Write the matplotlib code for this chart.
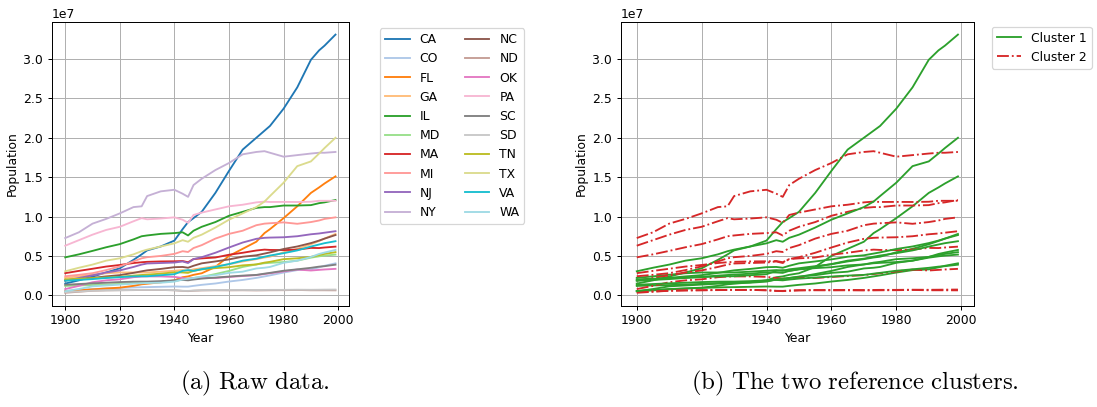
import matplotlib
matplotlib.use("Agg")
import matplotlib.pyplot as plt

plt.rcParams["mathtext.fontset"] = "cm"

# --- Data (population in millions) ---
years = [1900, 1905, 1910, 1915, 1920, 1925, 1928, 1930, 1935, 1940, 1943, 1945, 1947,
         1950, 1955, 1960, 1965, 1970, 1973, 1975, 1980, 1985, 1990, 1993, 1995, 1999]

ca = [1.49, 1.9, 2.38, 2.9, 3.43, 4.5, 5.2, 5.7, 6.2, 6.95, 8.4, 9.3, 9.8,
      10.6, 13.0, 15.8, 18.5, 20.0, 20.9, 21.5, 23.7, 26.4, 29.9, 31.1, 31.7, 33.1]
co = [0.54, 0.67, 0.8, 0.87, 0.94, 1.0, 1.03, 1.04, 1.08, 1.12, 1.1, 1.1, 1.2,
      1.33, 1.5, 1.75, 1.95, 2.21, 2.4, 2.53, 2.89, 3.2, 3.29, 3.55, 3.75, 4.06]
fl = [0.53, 0.63, 0.75, 0.87, 0.97, 1.2, 1.4, 1.47, 1.65, 1.9, 2.3, 2.4, 2.6,
      2.8, 3.6, 5.0, 5.9, 6.8, 7.9, 8.4, 9.8, 11.3, 13.0, 13.7, 14.2, 15.1]
ga = [2.22, 2.4, 2.61, 2.8, 2.9, 2.9, 2.9, 2.9, 3.0, 3.12, 3.2, 3.1, 3.3,
      3.44, 3.7, 3.94, 4.3, 4.59, 4.8, 4.9, 5.46, 5.9, 6.48, 6.9, 7.2, 7.79]
il = [4.82, 5.2, 5.64, 6.1, 6.5, 7.1, 7.5, 7.6, 7.8, 7.9, 8.0, 7.6, 8.2,
      8.7, 9.3, 10.1, 10.6, 11.1, 11.2, 11.2, 11.4, 11.4, 11.45, 11.7, 11.8, 12.1]
md = [1.19, 1.25, 1.3, 1.37, 1.45, 1.55, 1.6, 1.63, 1.7, 1.82, 2.0, 2.1, 2.2,
      2.34, 2.7, 3.1, 3.6, 3.92, 4.07, 4.12, 4.22, 4.4, 4.78, 4.95, 5.04, 5.17]
ma = [2.81, 3.1, 3.37, 3.65, 3.85, 4.1, 4.2, 4.25, 4.3, 4.32, 4.35, 4.2, 4.6,
      4.69, 4.8, 5.15, 5.4, 5.69, 5.8, 5.76, 5.74, 5.8, 6.02, 6.0, 6.07, 6.18]
mi = [2.42, 2.6, 2.81, 3.2, 3.67, 4.3, 4.7, 4.84, 5.0, 5.26, 5.6, 5.5, 6.0,
      6.37, 7.2, 7.8, 8.2, 8.9, 9.1, 9.15, 9.26, 9.08, 9.3, 9.5, 9.7, 9.9]
nj = [1.88, 2.2, 2.54, 2.9, 3.16, 3.6, 3.9, 4.04, 4.1, 4.16, 4.3, 4.1, 4.6,
      4.84, 5.4, 6.07, 6.7, 7.17, 7.3, 7.33, 7.37, 7.5, 7.75, 7.85, 7.95, 8.14]
ny = [7.27, 8.0, 9.1, 9.7, 10.4, 11.2, 11.3, 12.6, 13.2, 13.4, 12.9, 12.5, 14.0,
      14.8, 15.9, 16.8, 17.9, 18.2, 18.3, 18.1, 17.6, 17.8, 18.0, 18.1, 18.1, 18.2]
nc = [1.89, 2.05, 2.21, 2.4, 2.56, 2.85, 3.05, 3.17, 3.35, 3.57, 3.6, 3.5, 3.75,
      4.06, 4.3, 4.56, 4.9, 5.08, 5.3, 5.45, 5.88, 6.2, 6.63, 6.95, 7.2, 7.65]
nd = [0.32, 0.45, 0.58, 0.63, 0.65, 0.66, 0.68, 0.68, 0.68, 0.64, 0.56, 0.53, 0.58,
      0.62, 0.64, 0.63, 0.64, 0.62, 0.63, 0.64, 0.65, 0.68, 0.64, 0.64, 0.64, 0.63]
ok = [0.79, 1.2, 1.66, 1.9, 2.03, 2.3, 2.38, 2.40, 2.4, 2.34, 2.2, 2.1, 2.2,
      2.23, 2.2, 2.33, 2.45, 2.56, 2.7, 2.8, 3.03, 3.27, 3.15, 3.23, 3.28, 3.36]
pa = [6.3, 7.0, 7.7, 8.3, 8.7, 9.4, 9.8, 9.65, 9.75, 9.9, 9.6, 9.2, 10.2,
      10.5, 10.9, 11.3, 11.5, 11.8, 11.9, 11.85, 11.86, 11.85, 11.88, 12.0, 12.0, 12.0]
sc = [1.34, 1.43, 1.52, 1.6, 1.68, 1.73, 1.74, 1.74, 1.8, 1.9, 1.95, 1.9, 2.0,
      2.12, 2.25, 2.38, 2.5, 2.59, 2.75, 2.85, 3.12, 3.3, 3.49, 3.64, 3.7, 3.89]
sd = [0.40, 0.5, 0.58, 0.62, 0.64, 0.67, 0.69, 0.69, 0.69, 0.64, 0.57, 0.56, 0.6,
      0.65, 0.67, 0.68, 0.68, 0.67, 0.68, 0.69, 0.69, 0.71, 0.70, 0.71, 0.72, 0.73]
tn = [2.02, 2.1, 2.18, 2.26, 2.34, 2.5, 2.58, 2.62, 2.75, 2.92, 2.9, 2.85, 3.1,
      3.29, 3.45, 3.57, 3.8, 3.92, 4.15, 4.25, 4.59, 4.7, 4.88, 5.1, 5.26, 5.48]
tx = [3.05, 3.5, 3.9, 4.4, 4.7, 5.2, 5.6, 5.8, 6.2, 6.6, 7.0, 6.8, 7.3,
      7.7, 8.6, 9.6, 10.4, 11.2, 11.9, 12.6, 14.3, 16.4, 17.0, 18.0, 18.7, 20.0]
va = [1.85, 1.95, 2.06, 2.2, 2.31, 2.4, 2.42, 2.42, 2.55, 2.68, 3.1, 3.2, 3.1,
      3.32, 3.6, 3.97, 4.4, 4.65, 4.9, 5.05, 5.35, 5.7, 6.19, 6.45, 6.62, 6.87]
wa = [0.52, 0.8, 1.14, 1.25, 1.36, 1.48, 1.53, 1.56, 1.6, 1.74, 2.0, 2.1, 2.2,
      2.38, 2.55, 2.85, 3.0, 3.41, 3.5, 3.6, 4.13, 4.4, 4.87, 5.25, 5.43, 5.76]

states = ["CA", "CO", "FL", "GA", "IL", "MD", "MA", "MI", "NJ", "NY",
          "NC", "ND", "OK", "PA", "SC", "SD", "TN", "TX", "VA", "WA"]
series = [ca, co, fl, ga, il, md, ma, mi, nj, ny,
          nc, nd, ok, pa, sc, sd, tn, tx, va, wa]
cluster1 = ["CA", "CO", "FL", "GA", "MD", "NC", "SC", "TN", "TX", "VA", "WA"]

# --- Figure ---
dpi = 89
W, H = 1097, 407
fig = plt.figure(figsize=(W / dpi, H / dpi), dpi=dpi)

ax1 = fig.add_axes([51.7 / W, 1 - 305.7 / H, 297.3 / W, 284 / H])
ax2 = fig.add_axes([620.7 / W, 1 - 305.7 / H, 353.3 / W, 284 / H])

cmap = plt.get_cmap("tab20")
for i, (name, vals) in enumerate(zip(states, series)):
    ax1.plot(years, [v * 1e6 for v in vals], color=cmap(i), label=name)

first1 = first2 = True
for name, vals in zip(states, series):
    y = [v * 1e6 for v in vals]
    if name in cluster1:
        ax2.plot(years, y, color="tab:green", linestyle="-",
                 label="Cluster 1" if first1 else None)
        first1 = False
    else:
        ax2.plot(years, y, color="tab:red", linestyle="-.",
                 label="Cluster 2" if first2 else None)
        first2 = False

for ax in (ax1, ax2):
    ax.set_xlabel("Year")
    ax.set_ylabel("Population")
    ax.grid(True)

pad = 0.5 * 10 * dpi / 72
ax1.legend(ncol=2, loc="upper left",
           bbox_to_anchor=((380 - pad) / W, 1 - (28.3 - pad) / H),
           bbox_transform=fig.transFigure)
ax2.legend(loc="upper left",
           bbox_to_anchor=((991.7 - pad) / W, 1 - (26.7 - pad) / H),
           bbox_transform=fig.transFigure)

# Captions
fig.text(254.5 / W, 1 - 383 / H, r"$\mathrm{(a)\ Raw\ data.}$",
         ha="center", va="center", fontsize=20)
fig.text(854.5 / W, 1 - 383 / H, r"$\mathrm{(b)\ The\ two\ reference\ clusters.}$",
         ha="center", va="center", fontsize=20)

fig.savefig("out.png", dpi=dpi)
